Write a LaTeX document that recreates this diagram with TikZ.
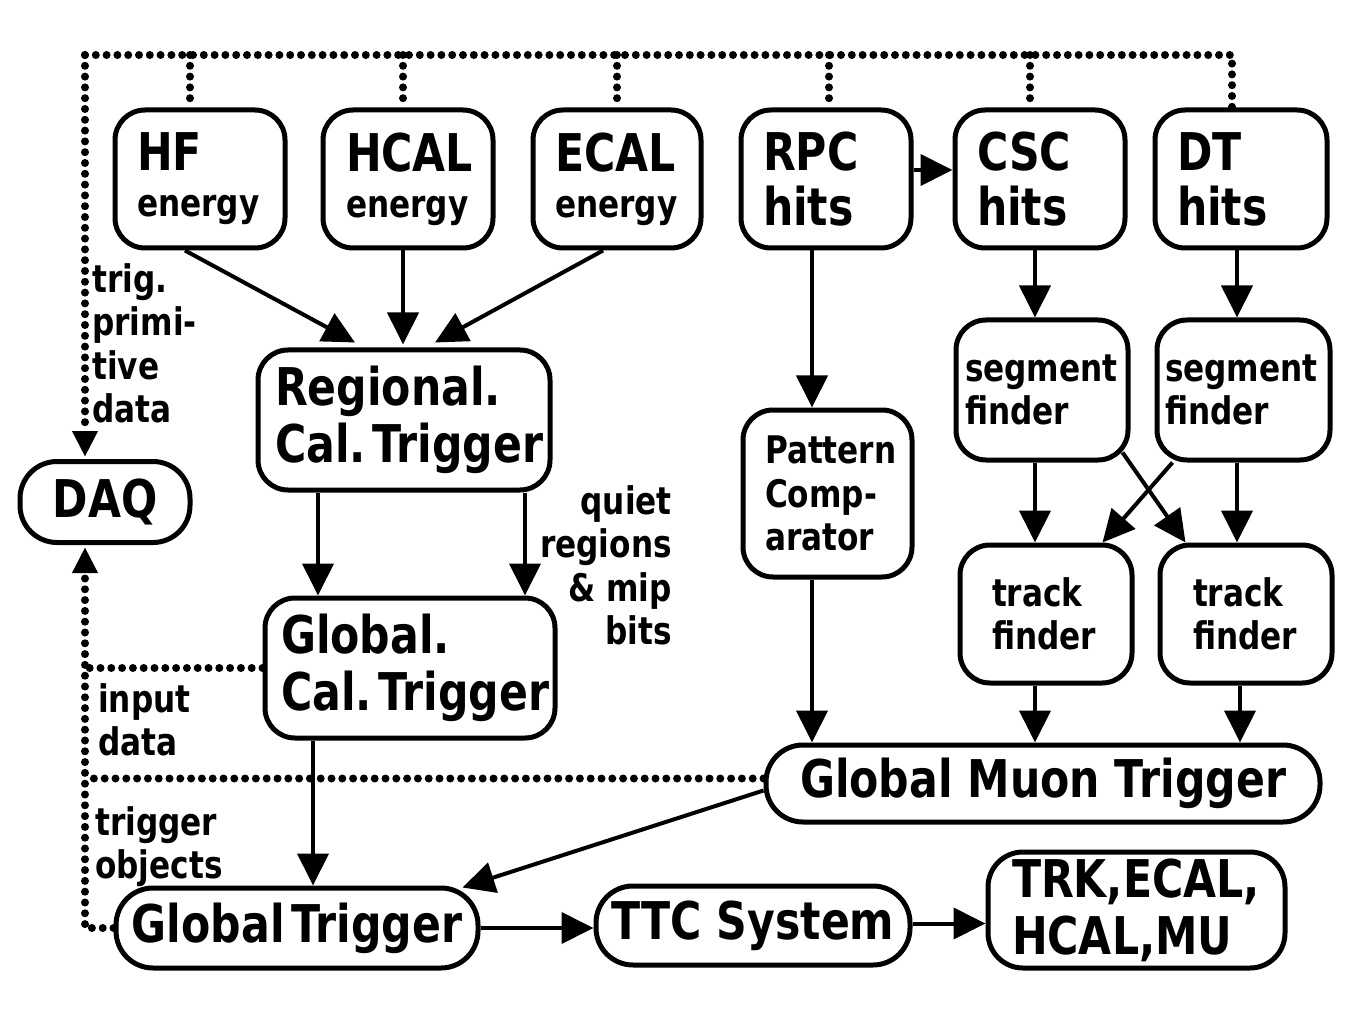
\documentclass[tikz,border=0pt]{standalone}
\usepackage{fontspec}
\setmainfont{DejaVu Sans Bold}[FakeStretch=0.82]
\usetikzlibrary{arrows.meta}
\newcommand\sline[1]{{\fontsize{38}{44}\selectfont #1}}
\newcommand\tightline[1]{\mbox{\spaceskip=0.12em\xspaceskip=0.12em #1}}
\begin{document}
\begin{tikzpicture}[x=1pt,y=-1pt,
 bx/.style={draw, line width=5pt, rounded corners=30pt, inner xsep=0pt, inner ysep=0pt, align=left},
 pill/.style={draw, line width=5pt, rounded corners=37pt, inner sep=0pt, align=center},
 big/.style={font=\fontsize{52}{57}\selectfont},
 sm/.style={font=\fontsize{38}{43.5}\selectfont},
 lbl/.style={font=\fontsize{38}{43.5}\selectfont, inner sep=0pt},
 arr/.style={line width=4pt, -{Triangle[length=32pt,width=31pt]}},
 dots/.style={line width=8pt, line cap=round, dash pattern=on 0pt off 10.8pt},
 ]
\useasboundingbox (0,0) rectangle (1350,1016);

% top row
\node[bx,big,minimum width=170pt,minimum height=138pt,text width=126pt] (hf) at (200,179) {HF\\[-11pt]\sline{energy}};
\node[bx,big,minimum width=170pt,minimum height=138pt,text width=124pt] (hcal) at (408,179) {HCAL\\[-11pt]\sline{energy}};
\node[bx,big,minimum width=168pt,minimum height=138pt,text width=124pt] (ecal) at (617,179) {ECAL\\[-11pt]\sline{energy}};
\node[bx,big,minimum width=170pt,minimum height=138pt,text width=126pt] (rpc) at (826,179) {RPC\\[-2pt]hits};
\node[bx,big,minimum width=170pt,minimum height=138pt,text width=126pt] (csc) at (1040,179) {CSC\\[-2pt]hits};
\node[bx,big,minimum width=172pt,minimum height=138pt,text width=128pt] (dt) at (1241,179) {DT\\[-2pt]hits};

% calorimeter chain
\node[bx,big,minimum width=292pt,minimum height=140pt,text width=258pt] (rct) at (404,420) {Regional.\\\tightline{Cal. Trigger}};
\node[bx,big,minimum width=290pt,minimum height=140pt,text width=258pt] (gct) at (410,668) {Global.\\\tightline{Cal. Trigger}};
\node[pill,big,minimum width=170pt,minimum height=81pt] (daq) at (105,502) {DAQ};

% muon chain
\node[bx,sm,minimum width=169pt,minimum height=167pt,text width=125pt] (pat) at (827.5,493.5) {Pattern\\Comp-\\arator};
\node[bx,sm,minimum width=172pt,minimum height=140pt,text width=154pt] (seg1) at (1042,390) {segment\\finder};
\node[bx,sm,minimum width=173pt,minimum height=140pt,text width=157pt] (seg2) at (1243.5,390) {segment\\finder};
\node[bx,sm,minimum width=172pt,minimum height=138pt,text width=108pt] (tf1) at (1046,614) {track\\finder};
\node[bx,sm,minimum width=172pt,minimum height=138pt,text width=106pt] (tf2) at (1246,614) {track\\finder};
\node[pill,big,minimum width=554pt,minimum height=77pt] (gmt) at (1043,783.5) {Global Muon Trigger};

% bottom row
\node[pill,big,minimum width=362pt,minimum height=80pt] (gt) at (297,928) {\tightline{Global Trigger}};
\node[pill,big,minimum width=314pt,minimum height=79pt] (ttc) at (753,925.5) {TTC System};
\node[bx,big,rounded corners=35pt,minimum width=297pt,minimum height=116pt,text width=249pt] (trk) at (1136.5,910) {TRK,ECAL,\\HCAL,MU};

% labels
\node[lbl,align=left,anchor=north west] (l1) at (92,263) {trig.\\primi-\\tive\\data};
\node[lbl,align=left,anchor=north west] (l2) at (98,683) {input\\data};
\node[lbl,align=left,anchor=north west] (l3) at (95,806) {trigger\\objects};
\node[lbl,align=right,anchor=north east] (l4) at (672,485) {quiet\\regions\\\& mip\\bits};

% dotted readout lines
\coordinate (ctl) at (85,55);
\coordinate (ctr) at (1232,55);
\coordinate (t1) at (190,55);
\coordinate (t2) at (403,55);
\coordinate (t3) at (617,55);
\coordinate (t4) at (829,55);
\coordinate (t5) at (1030,55);
\draw[dots] (ctl) -- (ctr) -- (ctr |- dt.north);
\draw[dots] (t1) -- (t1 |- hf.north);
\draw[dots] (t2) -- (t2 |- hcal.north);
\draw[dots] (t3) -- (t3 |- ecal.north);
\draw[dots] (t4) -- (t4 |- rpc.north);
\draw[dots] (t5) -- (t5 |- csc.north);
\draw[dots,-{Triangle[length=26pt,width=24pt]}] (ctl) -- ([yshift=2pt]ctl |- daq.north);
\draw[dots,-{Triangle[length=26pt,width=24pt]}] (gt.west) -| ([yshift=-2pt]ctl |- daq.south);
\draw[dots] (gct.west) -- (gct.west -| ctl);
\draw[dots] ([yshift=5pt]gmt.west) -- ([yshift=5pt]gmt.west -| ctl);

% solid arrows
\draw[arr] ([xshift=-15pt]hf.south) -- ([xshift=-49pt,yshift=5pt]rct.north);
\draw[arr] ([xshift=-5pt]hcal.south) -- ([xshift=-1pt,yshift=3pt]rct.north);
\draw[arr] ([xshift=-14pt]ecal.south) -- ([xshift=31pt,yshift=5pt]rct.north);
\draw[arr] ([xshift=-86pt]rct.south) -- ([xshift=-86pt]rct.south |- gct.north);
\draw[arr] ([xshift=121pt]rct.south) -- ([xshift=121pt]rct.south |- gct.north);
\draw[arr] ([xshift=-97pt]gct.south) -- ([xshift=-97pt]gct.south |- gt.north);
\draw[arr] ([yshift=-7pt]gmt.west) -- ([xshift=-18pt,yshift=-2pt]gt.north east);
\draw[arr] (gt.east) -- (gt.east -| ttc.west);
\draw[arr] ([yshift=2pt]ttc.east) -- ([yshift=2pt]ttc.east -| trk.west);
\draw[arr] ([yshift=9pt]rpc.east) -- ([yshift=9pt]csc.west);
\draw[arr] ([xshift=-14pt]rpc.south) -- ([xshift=-14pt]rpc.south |- pat.north);
\draw[arr] ([xshift=-15.5pt]pat.south) -- ([xshift=-15.5pt]pat.south |- gmt.north);
\draw[arr] ([xshift=-5pt]csc.south) -- ([xshift=-5pt]csc.south |- seg1.north);
\draw[arr] ([xshift=-4pt]dt.south) -- ([xshift=-4pt]dt.south |- seg2.north);
\draw[arr] ([xshift=-7pt]seg1.south) -- ([xshift=-7pt]seg1.south |- tf1.north);
\draw[arr] ([xshift=-6.5pt]seg2.south) -- ([xshift=-6.5pt]seg2.south |- tf2.north);
\draw[arr] ([xshift=-8pt,yshift=10pt]seg1.south east) -- ([xshift=28pt]tf2.north west);
\draw[arr] ([xshift=18pt]seg2.south west) -- ([xshift=-32pt]tf1.north east);
\draw[arr] ([xshift=-11pt]tf1.south) -- ([xshift=-11pt]tf1.south |- gmt.north);
\draw[arr] ([xshift=-6pt]tf2.south) -- ([xshift=-6pt]tf2.south |- gmt.north);
\end{tikzpicture}
\end{document}
